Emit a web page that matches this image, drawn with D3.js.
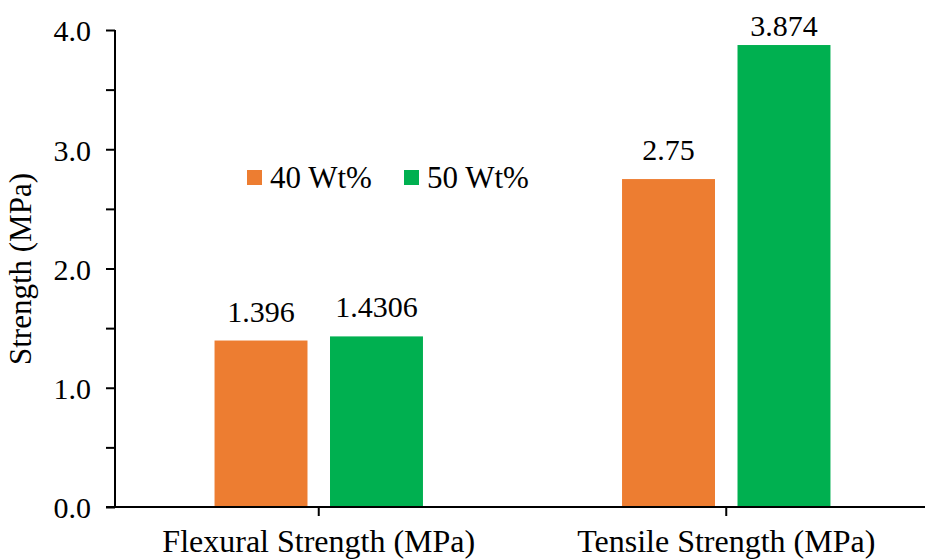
<!DOCTYPE html>
<html><head><meta charset="utf-8">
<script src="https://cdn.jsdelivr.net/npm/d3@7"></script>
<style>body{margin:0;background:#fff;}</style>
</head>
<body><svg id="c" width="925" height="559"></svg>
<script>
const categories = ["Flexural Strength (MPa)", "Tensile Strength (MPa)"];
const seriesNames = ["40 Wt%", "50 Wt%"];
const series40 = [1.396, 2.75];
const series50 = [1.4306, 3.874];
const labels40 = ["1.396", "2.75"];
const labels50 = ["1.4306", "3.874"];
const colors = ["#ED7D31", "#00B050"];
const yTicks = [0, 1, 2, 3, 4];
const yMinor = [0.5, 1.5, 2.5, 3.5];

const FONT = "Liberation Serif";
const svg = d3.select("#c");
const pLeft = 115, pRight = 930, pTop = 30, pBottom = 507;
const x = d3.scaleBand().domain(categories).range([pLeft, pRight]).padding(0);
const xi = d3.scaleBand().domain(seriesNames).range([0, x.bandwidth()]).paddingInner(0.195).paddingOuter(0.862);
const y = d3.scaleLinear().domain([0, 4]).range([pBottom, pTop]);

const data = [series40, series50];
const lab = [labels40, labels50];

// bars
seriesNames.forEach((s, si) => {
  svg.append("g").selectAll("rect").data(categories).join("rect")
    .attr("x", c => x(c) + xi(s))
    .attr("y", (c, i) => y(data[si][i]))
    .attr("width", xi.bandwidth())
    .attr("height", (c, i) => y(0) - y(data[si][i]))
    .attr("fill", colors[si]);
  svg.append("g").selectAll("text").data(categories).join("text")
    .attr("x", c => x(c) + xi(s) + xi.bandwidth() / 2)
    .attr("y", (c, i) => Math.max(y(data[si][i]) - 19, 36))
    .attr("text-anchor", "middle")
    .attr("font-family", FONT)
    .attr("font-size", 30)
    .attr("fill", "#000")
    .text((c, i) => lab[si][i]);
});

// y axis
const yAxis = svg.append("g").attr("transform", `translate(${pLeft},0)`)
  .call(d3.axisLeft(y).tickValues(yTicks).tickFormat(d3.format(".1f")).tickSize(9).tickPadding(15));
yAxis.attr("font-family", FONT).attr("font-size", 30);
yAxis.select(".domain").attr("stroke", "#000").attr("stroke-width", 2).attr("d", `M0,${pBottom}V${pTop}`);
yAxis.selectAll(".tick line").attr("stroke", "#000").attr("stroke-width", 2);
yAxis.selectAll(".tick text").attr("fill", "#000").attr("dy", "0.36em");
svg.append("g").attr("transform", `translate(${pLeft},0)`)
  .call(d3.axisLeft(y).tickValues(yMinor).tickFormat("").tickSize(9))
  .call(g => g.select(".domain").remove())
  .selectAll(".tick line").attr("stroke", "#000").attr("stroke-width", 2);

// x axis
const xAxis = svg.append("g").attr("transform", `translate(0,${pBottom})`)
  .call(d3.axisBottom(x).tickSize(9).tickPadding(14));
xAxis.attr("font-family", FONT).attr("font-size", 32);
xAxis.select(".domain").attr("stroke", "#000").attr("stroke-width", 2).attr("d", `M${pLeft - 9},0H${pRight}`);
xAxis.selectAll(".tick line").attr("stroke", "#000").attr("stroke-width", 2);
xAxis.selectAll(".tick text").attr("fill", "#000").attr("dy", null).attr("y", 45);

// y label
svg.append("text")
  .attr("transform", `translate(31,${269}) rotate(-90)`)
  .attr("text-anchor", "middle")
  .attr("font-family", FONT)
  .attr("font-size", 31)
  .attr("fill", "#000")
  .text("Strength (MPa)");

// legend
const leg = svg.append("g");
const legX = [247, 404];
seriesNames.forEach((s, i) => {
  leg.append("rect").attr("x", legX[i]).attr("y", 170).attr("width", 15).attr("height", 15).attr("fill", colors[i]);
  leg.append("text").attr("x", legX[i] + 23).attr("y", 188)
    .attr("font-family", FONT).attr("font-size", 31).attr("fill", "#000").text(s);
});
</script></body></html>
